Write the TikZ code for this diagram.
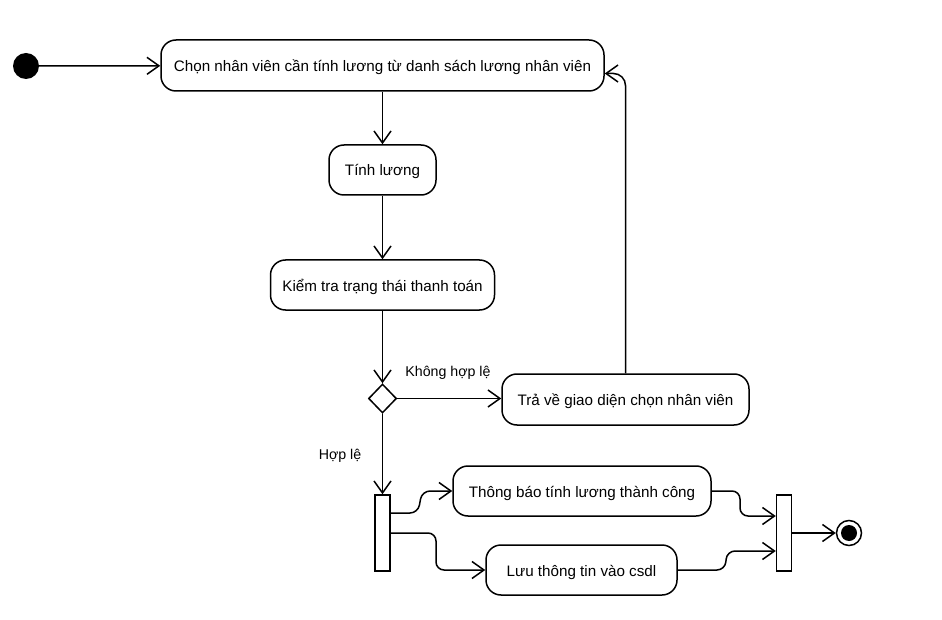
\documentclass[tikz,border=0pt]{standalone}
\usepackage{fontspec}
\setmainfont{Liberation Sans}
\usetikzlibrary{arrows.meta,shapes.geometric,calc}
\begin{document}
\begin{tikzpicture}[x=1pt,y=-1pt,
  every node/.style={font=\fontsize{15.2}{17}\selectfont},
  act/.style={draw,line width=1.5pt,rounded corners=15pt,inner sep=0pt,align=center,text height=12pt,text depth=0pt},
  bar/.style={draw,line width=1.5pt,fill=white,minimum width=15pt,minimum height=76pt,inner sep=0pt},
  flow/.style={draw,line width=1.5pt,-{Straight Barb[length=12pt,width=17pt,line width=1.5pt]}},
  lbl/.style={font=\fontsize{14.2}{16}\selectfont,text height=11pt,text depth=0pt}]
\useasboundingbox (0,0) rectangle (942,620);
\node[circle,fill=black,minimum size=26pt,inner sep=0pt] (start) at (26,66) {};
\node[act,minimum width=443pt,minimum height=51pt] (b1) at (382.5,65.5) {Chọn nhân viên cần tính lương từ danh sách lương nhân viên};
\node[act,minimum width=107pt,minimum height=50pt] (b2) at (382.5,170) {Tính lương};
\node[act,minimum width=224pt,minimum height=50pt] (b3) at (382.5,285) {Kiểm tra trạng thái thanh toán};
\node[diamond,draw,line width=1.5pt,minimum width=28pt,minimum height=29pt,inner sep=0pt] (d) at (382.5,398.5) {};
\node[act,minimum width=247pt,minimum height=51pt] (b4) at (625.5,399.5) {Trả về giao diện chọn nhân viên};
\node[lbl] (l1) at (448,371) {Không hợp lệ};
\node[lbl] (l2) at (340,454) {Hợp lệ};
\node[bar] (f) at (382.5,533) {};
\node[act,minimum width=258pt,minimum height=50pt] (b5) at (582,491) {Thông báo tính lương thành công};
\node[act,minimum width=191pt,minimum height=50pt] (b6) at (581.5,570) {Lưu thông tin vào csdl};
\node[bar] (j) at (784,533) {};
\node[circle,draw,line width=1.5pt,minimum size=25pt,inner sep=0pt] (e) at (849,533) {};
\node[circle,fill=black,minimum size=16pt,inner sep=0pt] (ei) at (e.center) {};
\draw[flow] (start) -- (b1);
\draw[flow] (b1) -- (b2);
\draw[flow] (b2) -- (b3);
\draw[flow] (b3) -- (d.north);
\draw[flow] (d.east) -- (b4.west |- d.east);
\draw[flow,rounded corners=12pt] (b4.north) |- ($(b1.east)+(0,8)$);
\draw[flow] (d.south) -- (f.north);
\draw[flow,rounded corners=8pt] ($(f.east)+(0,-20)$) -- (418,513) -- (422,491) -- (b5.west);
\draw[flow,rounded corners=8pt] (f.east) -- (436,533) -- (436,570) -- (b6.west);
\draw[flow,rounded corners=8pt] (b5.east) -- (740,491) -- (740,516) -- (j.west |- 0,516);
\draw[flow,rounded corners=8pt] (b6.east) -- (725,570) -- (727,551) -- (j.west |- 0,551);
\draw[flow] (j.east) -- (e.west);
\end{tikzpicture}
\end{document}
